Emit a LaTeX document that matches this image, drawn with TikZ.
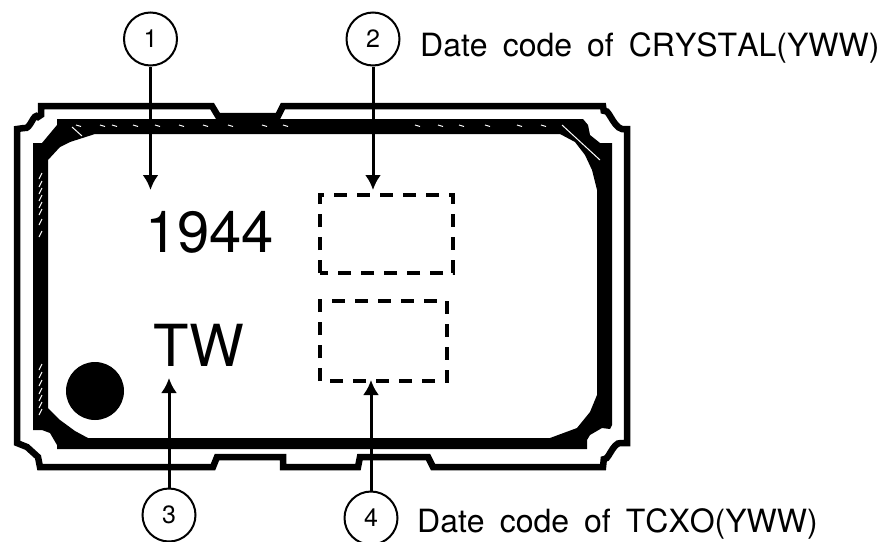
\documentclass[tikz,border=0pt]{standalone}
\usepackage{fontspec}
\setmainfont{TeX Gyre Heros}[Kerning=Off]
\usetikzlibrary{arrows.meta}
\newcommand{\wordgap}{\hspace{15pt}}
\tikzset{
    callout/.style={draw,circle,line width=2pt,minimum size=53pt,inner sep=0pt,font=\fontsize{25}{25}\selectfont},
    leader/.style={line width=3pt,-{Latex[length=15pt,width=16pt]}},
    datebox/.style={line width=4pt,dash pattern=on 13pt off 10pt},
    caption/.style={anchor=base west,inner sep=0pt,font=\fontsize{32}{32}\selectfont},
    marking/.style={inner sep=0pt,font=\fontsize{58}{58}\selectfont},
    speck/.style={white,line width=1pt}
}
\begin{document}
\begin{tikzpicture}[x=1pt,y=-1pt]
    \useasboundingbox (0,0) rectangle (888,541);
    % package outline
    \draw[line width=6.5pt,miter limit=2]
        (17,129) -- (24,128) to[out=-20,in=130] (38,117) -- (41,115) -- (41,106)
        -- (212,106) -- (218,116) -- (278,116) -- (283,106) -- (428,106)
        -- (603,106) -- (604,113) to[out=70,in=170] (622,129) -- (627,129)
        -- (627,443) -- (621,443) to[out=170,in=-70] (604,457) -- (603,467)
        -- (433,467) -- (428,457) -- (360,457) -- (358,467) -- (283,467)
        -- (283,457) -- (217,457) -- (213,467) -- (40,467) -- (38,457)
        -- (27,447) -- (17,443) -- cycle;
    % seal ring
    \fill[even odd rule]
        (57,119) -- (583,119) -- (588,125) -- (590,135) -- (600,143) -- (612,143)
        -- (612,425) -- (610,429) -- (602,428) -- (590,435) -- (587,440) -- (587,449) -- (57,449)
        -- (57,445) -- (50,433) -- (42,430) -- (33,430) -- (33,143) -- (42,143)
        -- (57,125) -- cycle
        (95,134) -- (560,134) -- (575,142) -- (585,155) -- (592,170) -- (597,190)
        -- (597,395) -- (590,412) -- (577,428) -- (550,438) -- (88,438)
        -- (75,431) -- (60,420) -- (48,408) -- (48,160) -- (60,147) -- (70,142) -- cycle;
    \foreach \xa in {76,100,112,133,155,179,203,228,262,283,415,438,459,485,517,541} {
        \draw[speck] (\xa,125) -- (\xa+5,126.5);
    }
    \foreach \ya in {176,184,191,198,205,212,222,234,367,375,383,391,398,405,412} {
        \draw[speck] (39,\ya+3) -- (42,\ya-3);
    }
    \draw[speck] (72,127) -- (82,136);
    \draw[speck] (562,125) -- (600,160);
    % pin one mark
    \fill (95,391) circle (29);
    \node[marking] (year) at (209.5,232) {1944};
    \node[marking] (origin) at (199,345) {TW};
    \draw[datebox] (320,273) rectangle (453,195);
    \draw[datebox] (320,381) rectangle (447,301);
    \node[callout] (num1) at (150.5,39) {1};
    \node[callout] (num2) at (373,39) {2};
    \node[callout] (num3) at (169,515) {3};
    \node[callout] (num4) at (371,518) {4};
    \coordinate (tip1) at (150.5,190);
    \coordinate (tip2) at (373,190);
    \coordinate (tip3) at (169,378);
    \coordinate (tip4) at (371,380);
    \foreach \n in {1,...,4} {
        \draw[leader] (num\n) -- (tip\n);
    }
    \node[caption] (crystal) at (420,56) {Date\wordgap code\wordgap of\wordgap CRYSTAL(YWW)};
    \node[caption] (tcxo) at (417,532) {Date\wordgap code\wordgap of\wordgap TCXO(YWW)};
\end{tikzpicture}
\end{document}
